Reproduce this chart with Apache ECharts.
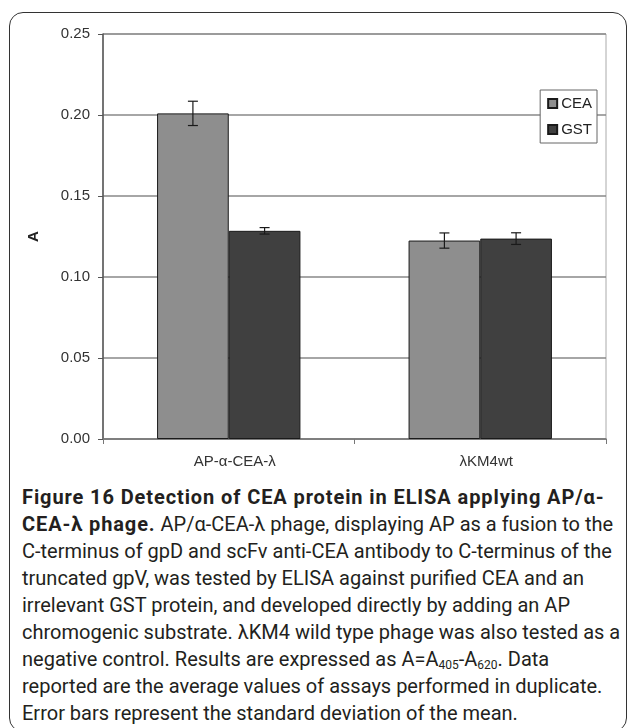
<!DOCTYPE html>
<html>
<head>
<meta charset="utf-8">
<script src="https://cdn.jsdelivr.net/npm/echarts@6/dist/echarts.min.js"></script>
<style>
  html, body { margin: 0; padding: 0; background: #fff; }
  #wrap { position: relative; width: 629px; height: 728px; overflow: hidden; }
  #frame { position: absolute; left: 9px; top: 12px; width: 618px; height: 720px;
           border: 1.5px solid #333; border-radius: 14px; box-sizing: border-box; }
  #chart { position: absolute; left: 0; top: 0; width: 629px; height: 480px; }
  #caption { position: absolute; left: 22px; top: 484px; width: 600px;
             font-family: Roboto, "Noto Sans", sans-serif; font-size: 20px; line-height: 27px;
             color: #231f20; white-space: nowrap; }
  #caption b { font-weight: 700; letter-spacing: 0.9px; }
  #caption sub { font-size: 12px; vertical-align: -3px; line-height: 0; }
</style>
</head>
<body>
<div id="wrap">
  <div id="frame"></div>
  <div id="chart"></div>
  <div id="caption">
    <b>Figure 16 Detection of CEA protein in ELISA applying AP/α-</b><br>
    <b>CEA-λ phage.</b> AP/α-CEA-λ phage, displaying AP as a fusion to the<br>
    C-terminus of gpD and scFv anti-CEA antibody to C-terminus of the<br>
    truncated gpV, was tested by ELISA against purified CEA and an<br>
    irrelevant GST protein, and developed directly by adding an AP<br>
    chromogenic substrate. λKM4 wild type phage was also tested as a<br>
    negative control. Results are expressed as A=A<sub>405</sub>-A<sub>620</sub>. Data<br>
    reported are the average values of assays performed in duplicate.<br>
    Error bars represent the standard deviation of the mean.
  </div>
</div>
<script>
// values
var categories = ['AP-α-CEA-λ', 'λKM4wt'];
var ceaValues = [0.201, 0.1225];
var ceaErrors = [0.0075, 0.0047];
var gstValues = [0.1285, 0.1237];
var gstErrors = [0.002, 0.0036];
var yTicks = [0, 0.05, 0.10, 0.15, 0.20, 0.25];

var catGap = 0.43;

function errData(vals, errs) {
  return vals.map(function (v, i) { return [i, v, errs[i]]; });
}

function errRender(side) {
  return function (params, api) {
    var i = api.value(0), v = api.value(1), e = api.value(2);
    var band = api.size([1, 0])[0];
    var barW = band * (1 - catGap) / 2;
    var c = api.coord([i, v]);
    var x = c[0] + side * barW / 2;
    var top = api.coord([i, v + e])[1];
    var bot = api.coord([i, v - e])[1];
    var cap = 5;
    var st = { stroke: '#1a1a1a', lineWidth: 1.2 };
    return {
      type: 'group',
      children: [
        { type: 'line', shape: { x1: x, y1: top, x2: x, y2: bot }, style: st },
        { type: 'line', shape: { x1: x - cap, y1: top, x2: x + cap, y2: top }, style: st },
        { type: 'line', shape: { x1: x - cap, y1: bot, x2: x + cap, y2: bot }, style: st }
      ]
    };
  };
}

var myChart = echarts.init(document.getElementById('chart'));
var option = {
  animation: false,
  textStyle: { fontFamily: '"Liberation Sans", Arial, sans-serif' },
  grid: {
    left: 103, right: 23, top: 34, bottom: 41,
    show: true, borderColor: '#aaa', borderWidth: 1
  },
  legend: {
    data: ['CEA', 'GST'],
    orient: 'vertical',
    right: 32, top: 90,
    padding: [6, 5, 6, 7],
    itemGap: 11,
    itemWidth: 9, itemHeight: 9,
    icon: 'rect',
    borderColor: '#666', borderWidth: 1,
    backgroundColor: '#fff',
    textStyle: { fontSize: 15, color: '#222', padding: [0, 0, 0, -1] }
  },
  xAxis: {
    type: 'category',
    data: categories,
    axisLine: { lineStyle: { color: '#777', width: 1.5 } },
    axisTick: { show: true, length: 5, lineStyle: { color: '#777' } },
    axisLabel: { fontSize: 15, color: '#333', margin: 15, padding: [0, 0, 0, 12] },
    splitLine: { show: false }
  },
  yAxis: {
    type: 'value',
    min: yTicks[0], max: yTicks[yTicks.length - 1], interval: 0.05,
    name: 'A',
    nameLocation: 'middle',
    nameGap: 62,
    nameRotate: 90,
    nameTextStyle: { fontSize: 15, fontWeight: 'bold', color: '#222' },
    axisLine: { show: true, lineStyle: { color: '#555', width: 1.5 } },
    axisTick: { show: true, length: 5, lineStyle: { color: '#555' } },
    axisLabel: { fontSize: 15, color: '#333', margin: 13,
                 formatter: function (v) { return v.toFixed(2); } },
    splitLine: { lineStyle: { color: '#888', width: 1.5 } }
  },
  series: [
    {
      name: 'CEA', type: 'bar', data: ceaValues,
      barGap: '0%', barCategoryGap: (catGap * 100) + '%',
      itemStyle: { color: '#8e8e8e', borderColor: '#1a1a1a', borderWidth: 1 }
    },
    {
      name: 'GST', type: 'bar', data: gstValues,
      barGap: '0%', barCategoryGap: (catGap * 100) + '%',
      itemStyle: { color: '#404040', borderColor: '#1a1a1a', borderWidth: 1 }
    },
    {
      name: 'CEA err', type: 'custom', data: errData(ceaValues, ceaErrors),
      encode: { x: 0, y: 1 }, renderItem: errRender(-1), z: 5
    },
    {
      name: 'GST err', type: 'custom', data: errData(gstValues, gstErrors),
      encode: { x: 0, y: 1 }, renderItem: errRender(1), z: 5
    }
  ]
};
myChart.setOption(option);
</script>
</body>
</html>
